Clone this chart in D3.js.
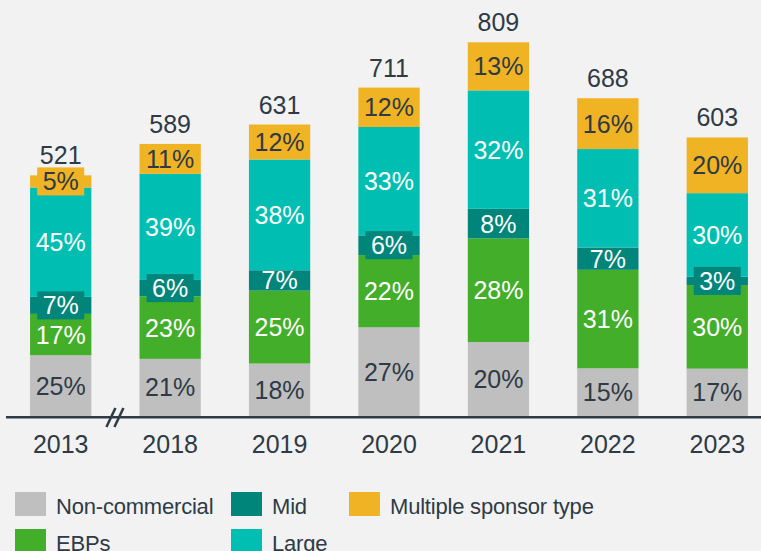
<!DOCTYPE html>
<html>
<head>
<meta charset="utf-8">
<script src="https://cdn.jsdelivr.net/npm/d3@7"></script>
<style>
  html, body { margin: 0; padding: 0; background: #f2f2f2; }
  svg { display: block; font-family: "Liberation Sans", Arial, sans-serif; }
</style>
</head>
<body>
<svg id="chart" width="761" height="551"></svg>
<script>
// Sponsor mix by year: totals and share of each sponsor type (%)
const years = ["2013", "2018", "2019", "2020", "2021", "2022", "2023"];
const totals = [521, 589, 631, 711, 809, 688, 603];
const seriesNames = ["Non-commercial", "EBPs", "Mid", "Large", "Multiple sponsor type"];
const nonCommercial = [25, 21, 18, 27, 20, 15, 17];
const ebps = [17, 23, 25, 22, 28, 31, 30];
const mid = [7, 6, 7, 6, 8, 7, 3];
const large = [45, 39, 38, 33, 32, 31, 30];
const multiple = [5, 11, 12, 12, 13, 16, 20];
const seriesColors = ["#bfbfbf", "#43ae29", "#00857a", "#00bfb2", "#f0b323"];
const seriesText = ["#2e3a46", "#ffffff", "#ffffff", "#ffffff", "#2e3a46"];

const seriesValues = [nonCommercial, ebps, mid, large, multiple];
const ink = "#2e3a46";

const svg = d3.select("#chart");

const x = d3.scaleBand()
  .domain(years)
  .range([6, 772])
  .paddingInner(0.44)
  .paddingOuter(0.22);

const y = d3.scaleLinear()
  .domain([0, d3.max(totals)])
  .range([416, 42.3]);

// Build stacked rows: each segment's share of the year's total
const rows = years.map((yr, i) => {
  const sum = d3.sum(seriesValues, s => s[i]);
  const row = { year: yr, total: totals[i] };
  seriesNames.forEach((name, k) => {
    row[name] = seriesValues[k][i] / sum * totals[i];
  });
  return row;
});

const stack = d3.stack().keys(seriesNames);
const stacked = stack(rows);

const layers = svg.append("g").selectAll("g")
  .data(stacked)
  .join("g")
  .attr("fill", (d, k) => seriesColors[k]);

layers.selectAll("rect")
  .data(d => d)
  .join("rect")
  .attr("x", d => x(d.data.year))
  .attr("width", x.bandwidth())
  .attr("y", d => y(d[1]))
  .attr("height", d => y(d[0]) - y(d[1]));

// Segment labels; thin segments get a padded tag behind the text
const labels = svg.append("g");
stacked.forEach((layer, k) => {
  layer.forEach((d, i) => {
    const cx = x(d.data.year) + x.bandwidth() / 2;
    const top = y(d[1]), bottom = y(d[0]);
    const cy = (top + bottom) / 2;
    const h = bottom - top;
    if (h < 20) {
      labels.append("rect")
        .attr("x", cx - 23.5)
        .attr("y", cy - 14)
        .attr("width", 47)
        .attr("height", 28)
        .attr("fill", seriesColors[k]);
    }
    labels.append("text")
      .attr("x", cx)
      .attr("y", cy + 9)
      .attr("text-anchor", "middle")
      .attr("font-size", 25)
      .attr("fill", seriesText[k])
      .text(seriesValues[k][i] + "%");
  });
});

// Totals above bars
svg.append("g").selectAll("text")
  .data(rows)
  .join("text")
  .attr("x", d => x(d.year) + x.bandwidth() / 2)
  .attr("y", d => y(d.total) - 11)
  .attr("text-anchor", "middle")
  .attr("font-size", 25)
  .attr("fill", ink)
  .text(d => d.total);

// Baseline axis with year labels
const axis = svg.append("g").attr("transform", "translate(0,417.2)")
  .call(d3.axisBottom(x).tickSize(0).tickPadding(0));
axis.select(".domain").remove();
axis.append("line")
  .attr("x1", 6).attr("x2", 761)
  .attr("stroke", ink).attr("stroke-width", 2.5);
axis.selectAll(".tick text")
  .attr("y", 36)
  .attr("dy", 0)
  .attr("font-size", 25)
  .attr("font-family", "Liberation Sans, Arial, sans-serif")
  .attr("fill", ink);

// Axis break between 2013 and 2018
const bx = (x("2013") + x.bandwidth() + x("2018")) / 2;
[-4, 4].forEach(off => {
  svg.append("line")
    .attr("x1", bx + off - 5).attr("y1", 427)
    .attr("x2", bx + off + 4).attr("y2", 408)
    .attr("stroke", ink).attr("stroke-width", 2.5);
});

// Legend, filled column by column in two rows
const legendCols = [15, 231, 349];
const legendRows = [492, 529];
const legend = svg.append("g");
seriesNames.forEach((name, k) => {
  const col = Math.floor(k / 2), row = k % 2;
  const g = legend.append("g")
    .attr("transform", `translate(${legendCols[col]},${legendRows[row]})`);
  g.append("rect")
    .attr("width", 31).attr("height", 24)
    .attr("fill", seriesColors[k]);
  g.append("text")
    .attr("x", 41).attr("y", 22)
    .attr("font-size", 22)
    .attr("letter-spacing", -0.2)
    .attr("fill", ink)
    .text(name);
});
</script>
</body>
</html>
